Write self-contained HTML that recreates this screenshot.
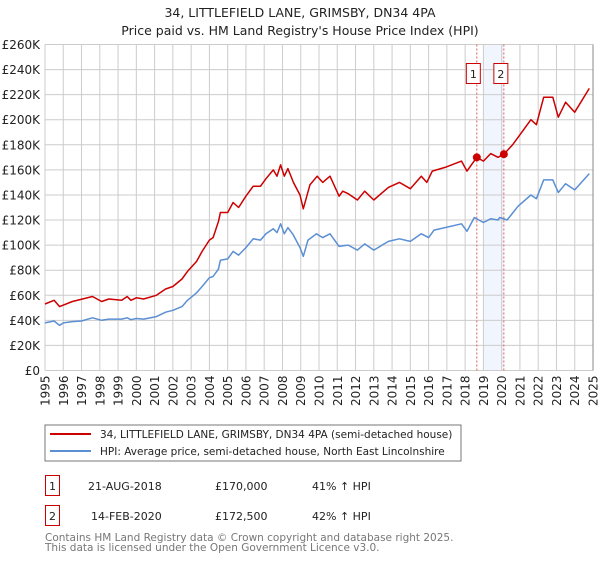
<!DOCTYPE html>
<html><head><meta charset="utf-8"><style>
body{margin:0;background:#fff;font-family:"Liberation Sans","DejaVu Sans",sans-serif;}
svg text{font-family:"DejaVu Sans","Liberation Sans",sans-serif;}
</style></head><body>
<svg id="c" width="600" height="560" xmlns="http://www.w3.org/2000/svg">
<text x="300" y="17" text-anchor="middle" font-size="12.5" fill="#222">34, LITTLEFIELD LANE, GRIMSBY, DN34 4PA</text>
<text x="300" y="35" text-anchor="middle" font-size="12.5" fill="#222">Price paid vs. HM Land Registry's House Price Index (HPI)</text>
<g id="plot"></g>
<rect x="45" y="425" width="416" height="36" fill="#fff" stroke="#777"/>
<line x1="50" y1="434" x2="91" y2="434" stroke="#cc0000" stroke-width="2"/>
<text x="100" y="438" font-size="10.5" fill="#222">34, LITTLEFIELD LANE, GRIMSBY, DN34 4PA (semi-detached house)</text>
<line x1="50" y1="451" x2="91" y2="451" stroke="#5b8fd4" stroke-width="2"/>
<text x="100" y="455" font-size="10.5" fill="#222">HPI: Average price, semi-detached house, North East Lincolnshire</text>
<g>
<rect x="45.5" y="475.5" width="14" height="20" fill="#fff" stroke="#cc0000"/>
<text x="52.5" y="490" text-anchor="middle" font-size="11" fill="#222">1</text>
<text x="88" y="490" font-size="11" fill="#222">21-AUG-2018</text>
<text x="215" y="490" font-size="11" fill="#222">£170,000</text>
<text x="312" y="490" font-size="11" fill="#222">41% ↑ HPI</text>
</g>
<g>
<rect x="45.5" y="505.5" width="14" height="20" fill="#fff" stroke="#cc0000"/>
<text x="52.5" y="520" text-anchor="middle" font-size="11" fill="#222">2</text>
<text x="91" y="520" font-size="11" fill="#222">14-FEB-2020</text>
<text x="215" y="520" font-size="11" fill="#222">£172,500</text>
<text x="312" y="520" font-size="11" fill="#222">42% ↑ HPI</text>
</g>
<text x="45" y="541" font-size="10.5" fill="#777">Contains HM Land Registry data © Crown copyright and database right 2025.</text>
<text x="45" y="551" font-size="10.5" fill="#777">This data is licensed under the Open Government Licence v3.0.</text>
</svg>
<script>
const hpiYears=[1995,1995.5,1995.8,1996,1996.5,1997,1997.6,1998.1,1998.5,1999.2,1999.5,1999.7,2000,2000.4,2001.1,2001.6,2002,2002.5,2002.8,2003.3,2003.6,2004,2004.2,2004.5,2004.6,2005,2005.3,2005.6,2006,2006.4,2006.8,2007.1,2007.5,2007.7,2007.9,2008.1,2008.3,2008.6,2008.96,2009.14,2009.4,2009.86,2010.2,2010.6,2011.1,2011.6,2012.1,2012.5,2013,2013.8,2014.4,2015,2015.6,2016,2016.3,2016.9,2017.8,2018.1,2018.5,2019,2019.4,2019.8,2019.9,2020.3,2020.9,2021.6,2021.9,2022.3,2022.8,2023.1,2023.5,2024,2024.8];
const hpiValues=[38,39.5,36,38,39,39.5,42,40,41,41,42,40.5,41.5,41,43,46.5,48,51,56,62,67,74,75,81,88,89,95,92,98,105,104,109,113,110,117,109,114,108,98,91,104,109,106,109,99,100,96,101,96,103,105,103,109,106,112,114,117,111,122,118,121,120,122,120,131,140,137,152,152,142,149,144,157];
const propYears=[1995,1995.5,1995.8,1996.5,1997.6,1998.1,1998.5,1999.2,1999.5,1999.7,2000,2000.4,2001.1,2001.6,2002,2002.5,2002.8,2003.3,2003.6,2004,2004.2,2004.5,2004.6,2005,2005.3,2005.6,2006,2006.4,2006.8,2007.1,2007.5,2007.7,2007.9,2008.1,2008.3,2008.6,2008.96,2009.14,2009.5,2009.9,2010.2,2010.6,2011.1,2011.3,2011.6,2012.1,2012.5,2013,2013.8,2014.4,2015,2015.6,2015.9,2016.2,2016.9,2017.8,2018.1,2018.64,2019,2019.4,2019.8,2020.12,2020.6,2021,2021.6,2021.9,2022.3,2022.8,2023.1,2023.5,2024,2024.8];
const propValues=[53,56,51,55,59,55,57,56,59,56,58,57,60,65,67,73,79,87,95,104,106,119,126,126,134,130,139,147,147,153,160,155,164,155,161,150,140,129,148,155,150,155,139,143,141,136,143,136,146,150,145,155,150,159,162,167,159,170,167,173,170,172.5,180,188,200,196,218,218,202,214,206,225];
const saleYears=[2018.64,2020.12];
const saleValues=[170,172.5];
const saleLabels=["1","2"];
const yTicks=[0,20,40,60,80,100,120,140,160,180,200,220,240,260];
const yTickLabels=["£0","£20K","£40K","£60K","£80K","£100K","£120K","£140K","£160K","£180K","£200K","£220K","£240K","£260K"];
const xTicks=[1995,1996,1997,1998,1999,2000,2001,2002,2003,2004,2005,2006,2007,2008,2009,2010,2011,2012,2013,2014,2015,2016,2017,2018,2019,2020,2021,2022,2023,2024,2025];

const L=45,R=593,T=44.5,B=370.5;
const xs=y=>L+(y-1995)/30*(R-L);
const ys=v=>B-v/260*(B-T);
const g=document.getElementById('plot');
const NS='http://www.w3.org/2000/svg';
function mk(t,a){const e=document.createElementNS(NS,t);for(const k in a)e.setAttribute(k,a[k]);g.appendChild(e);return e;}
// shade
let sh=mk('rect',{x:xs(2019),y:T,width:xs(saleYears[1])-xs(2019),height:B-T,fill:'#eef3fc',opacity:0.8});


yTicks.forEach((v,i)=>{
 let l=mk('line',{x1:L,x2:R,y1:ys(v),y2:ys(v),stroke:'#ccc','stroke-width':1});
 
 
 let t=mk('text',{x:40,y:ys(v)+4.5,'text-anchor':'end','font-size':12,fill:'#222'});
 t.textContent=yTickLabels[i];
 
 
});
xTicks.forEach(yr=>{
 let l=mk('line',{x1:xs(yr),x2:xs(yr),y1:T,y2:B,stroke:'#ccc','stroke-width':1});
 
 
 let t=mk('text',{x:0,y:0,'text-anchor':'end','font-size':12,fill:'#222',transform:`translate(${xs(yr)+4.5},${B+5}) rotate(-90)`});
 t.textContent=yr;
 
 
});
let fr=mk('line',{x1:R,x2:R,y1:T,y2:B,stroke:'#888','stroke-width':1});


saleYears.forEach((yr,i)=>{
 let l=mk('line',{x1:xs(yr),x2:xs(yr),y1:T,y2:B,stroke:'#e06060','stroke-width':1,'stroke-dasharray':'2,2'});
 
 
 let b=mk('rect',{x:xs(yr)+(i==0?-10:-10),y:63.5,width:14,height:20,fill:'#fff',stroke:'#cc0000'});
 b.setAttribute('x',xs(yr)-(i==0?10.5:10));
 
 
 let t=mk('text',{x:xs(yr)-(i==0?3.5:3),y:78,'text-anchor':'middle','font-size':11,fill:'#222'});
 t.textContent=saleLabels[i];
 
 
});
function line(xa,va,col,name){
 let p=mk('polyline',{points:xa.map((x,i)=>xs(x).toFixed(1)+','+ys(va[i]).toFixed(1)).join(' '),fill:'none',stroke:col,'stroke-width':1.5,'stroke-linejoin':'round'});
 
 
}
line(hpiYears,hpiValues,'#5b8fd4','hpi-line');
line(propYears,propValues,'#cc0000','property-line');
saleYears.forEach((yr,i)=>{
 let c=mk('circle',{cx:xs(yr),cy:ys(saleValues[i]),r:4,fill:'#cc0000'});
 
 
});
</script>
</body></html>
